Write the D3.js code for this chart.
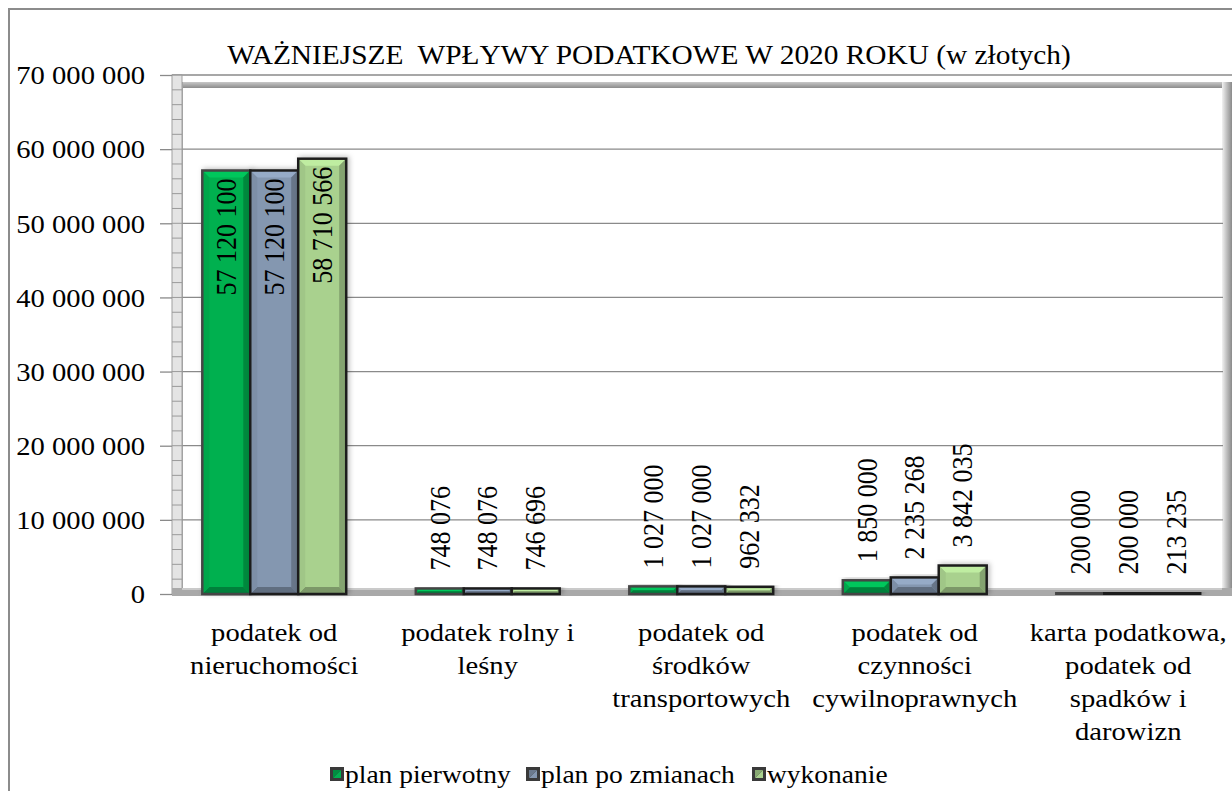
<!DOCTYPE html>
<html>
<head>
<meta charset="utf-8">
<script src="https://cdn.jsdelivr.net/npm/d3@7"></script>
<style>
  body { margin: 0; background: #fff; }
  svg { display: block; }
  svg text { font-family: "Liberation Serif", "Times New Roman", serif; }
</style>
</head>
<body>
<div id="chart-area"></div>
<script>
const categories = [
  "podatek od\nnieruchomości",
  "podatek rolny i\nleśny",
  "podatek od\nśrodków\ntransportowych",
  "podatek od\nczynności\ncywilnoprawnych",
  "karta podatkowa,\npodatek od\nspadków i\ndarowizn"
];
const seriesNames = ["plan pierwotny", "plan po zmianach", "wykonanie"];
const planPierwotny = [57120100, 748076, 1027000, 1850000, 200000];
const planPoZmianach = [57120100, 748076, 1027000, 2235268, 200000];
const wykonanie = [58710566, 746696, 962332, 3842035, 213235];
const yTicks = [0, 10000000, 20000000, 30000000, 40000000, 50000000, 60000000, 70000000];
const seriesColors = ["#00b050", "#8497b0", "#a9d18e"];

const width = 1232, height = 791;
const sx = 1.1; // text in the picture is a bit wider than tall

const fmt = v => d3.format(",")(v).replace(/,/g, " ");

const svg = d3.select("#chart-area").append("svg").attr("width", width).attr("height", height);
const defs = svg.append("defs");

// soft shadow for bars
const shadow = defs.append("filter").attr("id", "shadow")
  .attr("x", "-20%").attr("y", "-20%").attr("width", "140%").attr("height", "140%");
shadow.append("feDropShadow").attr("dx", 2).attr("dy", -1).attr("stdDeviation", 2.5)
  .attr("flood-color", "#000").attr("flood-opacity", 0.25);

const gradRight = defs.append("linearGradient").attr("id", "wallRight").attr("x1", 0).attr("x2", 1).attr("y1", 0).attr("y2", 0);
gradRight.append("stop").attr("offset", 0).attr("stop-color", "#f2f2f2");
gradRight.append("stop").attr("offset", 0.5).attr("stop-color", "#bdbdbd");
gradRight.append("stop").attr("offset", 1).attr("stop-color", "#8a8a8a");

const gradTop = defs.append("linearGradient").attr("id", "wallTop").attr("x1", 0).attr("x2", 0).attr("y1", 0).attr("y2", 1);
gradTop.append("stop").attr("offset", 0).attr("stop-color", "#c8c8c8");
gradTop.append("stop").attr("offset", 1).attr("stop-color", "#8c8c8c");

// outer chart border
svg.append("rect").attr("x", 9).attr("y", 9).attr("width", 1240).attr("height", 800)
  .attr("fill", "#fff").attr("stroke", "#8c8c8c").attr("stroke-width", 2);

// scales
const y = d3.scaleLinear().domain([0, 70000000]).range([594, 75]);
const x0 = d3.scaleBand().domain(categories).range([167.5, 1235]);
const bw = x0.bandwidth();
const x1 = d3.scaleBand().domain(seriesNames).range([bw * 0.163, bw * 0.837]);

const rows = categories.map((c, i) => ({
  category: c,
  values: [planPierwotny[i], planPoZmianach[i], wykonanie[i]]
}));

// title
svg.append("text")
  .attr("transform", `translate(649, 64) scale(${sx},1)`)
  .attr("text-anchor", "middle")
  .attr("font-size", 26.7)
  .style("white-space", "pre")
  .text("WAŻNIEJSZE  WPŁYWY PODATKOWE W 2020 ROKU (w złotych)");

// back wall frame (3d look)
svg.append("rect").attr("x", 178).attr("y", 82).attr("width", 1054).attr("height", 6).attr("fill", "url(#wallTop)");
svg.append("rect").attr("x", 178).attr("y", 82).attr("width", 5).attr("height", 508).attr("fill", "#a6a6a6");
svg.append("rect").attr("x", 1222).attr("y", 82).attr("width", 10).attr("height", 514).attr("fill", "url(#wallRight)");

// gridlines
svg.append("g").selectAll("line").data(yTicks).join("line")
  .attr("x1", 172).attr("x2", d => d === 70000000 ? 1232 : 1223)
  .attr("y1", d => y(d)).attr("y2", d => y(d))
  .attr("stroke", "#8a8a8a").attr("stroke-width", 1.3);

// left wall with minor ticks
svg.append("rect").attr("x", 172).attr("y", 75).attr("width", 10).attr("height", 519)
  .attr("fill", "#e4e4e4").attr("stroke", "#a0a0a0").attr("stroke-width", 1);
svg.append("g").selectAll("line").data(d3.range(0, 70000001, 2000000)).join("line")
  .attr("x1", 172).attr("x2", 182)
  .attr("y1", d => y(d)).attr("y2", d => y(d))
  .attr("stroke", "#9a9a9a").attr("stroke-width", 1);

// floor
svg.append("rect").attr("x", 172).attr("y", 588).attr("width", 1060).attr("height", 8).attr("fill", "#a9a9a9");
svg.append("line").attr("x1", 182).attr("x2", 1222).attr("y1", 589).attr("y2", 589).attr("stroke", "#d6d6d6").attr("stroke-width", 1.5);

// y axis
const yAxis = d3.axisLeft(y).tickValues(yTicks).tickSize(12).tickPadding(15).tickFormat(fmt);
const axisG = svg.append("g").attr("transform", "translate(172,0)").call(yAxis);
axisG.select(".domain").remove();
axisG.selectAll(".tick line").attr("stroke", "#8a8a8a").attr("stroke-width", 1.3);
axisG.selectAll(".tick text")
  .attr("font-size", 26).attr("fill", "#000")
  .attr("x", -27 / sx).attr("dy", "0.34em")
  .attr("transform", `scale(${sx},1)`);

// bevelled bar
function bevelBar(g, x, yTop, w, h, color, strokeColor) {
  const c = d3.color(color);
  const b = Math.min(7, h / 2, w / 2);
  const xa = x, xb = x + w, ya = yTop, yb = yTop + h;
  g.append("rect").attr("x", xa).attr("y", ya).attr("width", w).attr("height", h).attr("fill", c.formatHex());
  const faces = [
    [[xa, ya], [xb, ya], [xb - b, ya + b], [xa + b, ya + b], c.brighter(0.35)],
    [[xb, ya], [xb, yb], [xb - b, yb - b], [xb - b, ya + b], c.darker(0.7)],
    [[xa, yb], [xb, yb], [xb - b, yb - b], [xa + b, yb - b], c.darker(0.9)],
    [[xa, ya], [xa, yb], [xa + b, yb - b], [xa + b, ya + b], c.darker(0.15)]
  ];
  faces.forEach(f => {
    g.append("polygon").attr("points", f.slice(0, 4).map(p => p.join(",")).join(" ")).attr("fill", f[4].formatHex());
  });
  g.append("rect").attr("x", xa).attr("y", ya).attr("width", w).attr("height", h)
    .attr("fill", "none").attr("stroke", strokeColor).attr("stroke-width", 2.5);
}

const groups = svg.append("g").selectAll("g").data(rows).join("g")
  .attr("transform", d => `translate(${x0(d.category)},0)`);

groups.each(function (d) {
  const g = d3.select(this);
  d.values.forEach((v, i) => {
    const bg = g.append("g").attr("filter", "url(#shadow)");
    bevelBar(bg, x1(seriesNames[i]), y(v), x1.bandwidth(), y(0) - y(v), seriesColors[i], i === 0 ? "#454545" : "#1e1e1e");
  });
});

// data labels, rotated
groups.each(function (d) {
  const g = d3.select(this);
  d.values.forEach((v, i) => {
    const cx = x1(seriesNames[i]) + x1.bandwidth() / 2;
    const inside = y(0) - y(v) > 150;
    const yPos = inside ? y(v) + 8 : y(v) - 18;
    g.append("text")
      .attr("transform", `translate(${cx},${yPos}) scale(${sx},1) rotate(-90)`)
      .attr("text-anchor", inside ? "end" : "start")
      .attr("dy", "0.34em")
      .attr("font-size", 26).attr("fill", "#000")
      .text(fmt(v));
  });
});

// category labels
const xLabels = svg.append("g").selectAll("text").data(categories).join("text")
  .attr("transform", d => `translate(${x0(d) + bw / 2},641) scale(${sx},1)`)
  .attr("text-anchor", "middle")
  .attr("font-size", 26).attr("fill", "#000");
xLabels.each(function (d) {
  d3.select(this).selectAll("tspan").data(d.split("\n")).join("tspan")
    .attr("x", 0).attr("dy", (t, i) => i === 0 ? 0 : 33).text(t => t);
});

// legend
const legendX = [330, 526, 752];
const legend = svg.append("g").selectAll("g").data(seriesNames).join("g")
  .attr("transform", (d, i) => `translate(${legendX[i]},767)`);
legend.each(function (d, i) {
  const g = d3.select(this);
  g.append("rect").attr("width", 14).attr("height", 14).attr("fill", "#3a3a3a");
  g.append("polygon").attr("points", "3,11 11,3 11,11").attr("fill", seriesColors[i]);
  g.append("polygon").attr("points", "3,3 11,3 3,11").attr("fill", d3.color(seriesColors[i]).darker(0.6).formatHex());
});
legend.append("text")
  .attr("transform", `translate(15,16) scale(${sx},1)`)
  .attr("font-size", 25).attr("fill", "#000")
  .text(d => d);
</script>
</body>
</html>
